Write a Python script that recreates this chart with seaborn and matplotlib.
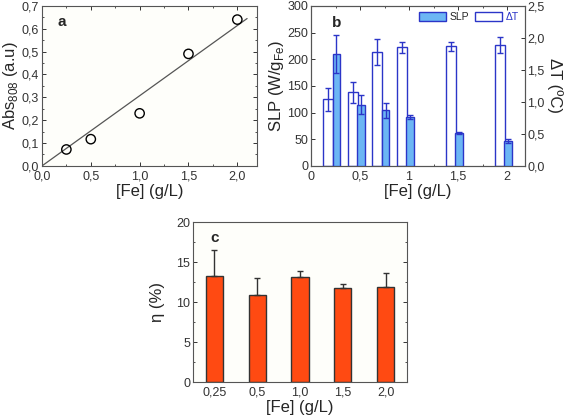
import numpy as np
import pandas as pd
import matplotlib
matplotlib.use("Agg")
import matplotlib.pyplot as plt
import seaborn as sns
from matplotlib.ticker import FuncFormatter, MultipleLocator, AutoMinorLocator
from matplotlib.patches import Patch

# panel a: absorbance at 808 nm
fe_abs = [0.25, 0.5, 1.0, 1.5, 2.0]
abs808 = [0.072, 0.117, 0.23, 0.49, 0.64]

# panel b: SLP and temperature increase
fe_b = [0.25, 0.5, 0.75, 1.0, 1.5, 2.0]
slp = [210, 115, 104, 92, 62, 47]
slp_err = [35, 17, 14, 4, 2, 4]
dT = [1.04, 1.15, 1.78, 1.85, 1.87, 1.89]
dT_err = [0.18, 0.16, 0.21, 0.08, 0.07, 0.12]

# panel c: efficiency
fe_c = ["0,25", "0,5", "1,0", "1,5", "2,0"]
eta = [13.3, 10.9, 13.1, 11.8, 11.85]
eta_err = [3.2, 2.1, 0.8, 0.45, 1.8]

sns.set_style("white")
plt.rcParams["font.family"] = ["Liberation Sans", "DejaVu Sans"]
plt.rcParams["axes.edgecolor"] = "#555555"
plt.rcParams["xtick.color"] = "#333333"
plt.rcParams["ytick.color"] = "#333333"

comma = lambda fmt: FuncFormatter(lambda v, p: (fmt % v).replace(".", ","))
gen = FuncFormatter(lambda v, p: ("%g" % v).replace(".", ","))

fig = plt.figure(figsize=(5.67, 4.19), dpi=100)
axa = fig.add_axes([0.074, 0.604, 0.379, 0.382])
axb = fig.add_axes([0.5485, 0.604, 0.377, 0.382])
axc = fig.add_axes([0.340, 0.088, 0.378, 0.382])

TS = 9
LS = 12


def style(ax, right=True):
    ax.set_facecolor("#fefefa")
    ax.tick_params(direction="in", length=3, width=0.7, labelsize=TS, pad=2,
                   top=True, right=right, bottom=True, left=True)
    ax.tick_params(axis="x", pad=3.5)
    ax.tick_params(which="minor", direction="in", length=1.5, width=0.6,
                   top=True, right=right, bottom=True, left=True)
    for s in ax.spines.values():
        s.set_linewidth(0.8)


# ---- a ----
df_a = pd.DataFrame({"fe": fe_abs, "abs": abs808})
slope = np.sum(np.array(fe_abs) * np.array(abs808)) / np.sum(np.array(fe_abs) ** 2)
fit = pd.DataFrame({"fe": [0.0, 2.1], "abs": [0.0, slope * 2.1]})
sns.lineplot(data=fit, x="fe", y="abs", ax=axa, color="#555555", lw=0.9)
sns.scatterplot(data=df_a, x="fe", y="abs", ax=axa, s=45, facecolor="none",
                edgecolor="black", linewidth=1.0, zorder=3)
axa.set_xlim(0, 2.2)
axa.set_ylim(0, 0.7)
axa.xaxis.set_major_locator(MultipleLocator(0.5))
axa.yaxis.set_major_locator(MultipleLocator(0.1))
axa.xaxis.set_minor_locator(AutoMinorLocator(2))
axa.yaxis.set_minor_locator(AutoMinorLocator(2))
axa.xaxis.set_major_formatter(comma("%.1f"))
axa.yaxis.set_major_formatter(comma("%.1f"))
axa.set_xlabel("[Fe] (g/L)", fontsize=LS, labelpad=1)
axa.set_ylabel("Abs$_{\\mathregular{808}}$ (a.u)", fontsize=LS, labelpad=1)
style(axa)
axa.text(0.09, 0.9, "a", transform=axa.transAxes, fontsize=11, fontweight="bold",
         va="center", ha="center")

# ---- b ----
edge = "#2b35c8"
axb2 = axb.twinx()
x = np.array(fe_b)
axb2.bar(x - 0.075, dT, width=0.1, color="white", edgecolor=edge, linewidth=1.0)
axb2.errorbar(x - 0.075, dT, yerr=dT_err, fmt="none", ecolor=edge, elinewidth=1.0,
              capsize=2.5, capthick=1.0)
axb.bar(x + 0.01, slp, width=0.08, color="#6cb6f4", edgecolor=edge, linewidth=1.0, zorder=3)
axb.errorbar(x + 0.01, slp, yerr=slp_err, fmt="none", ecolor=edge, elinewidth=1.0,
             capsize=2.5, capthick=1.0, zorder=4)
axb.set_zorder(axb2.get_zorder() + 1)
axb.patch.set_visible(False)
axb2.set_facecolor("#fefefa")
axb.set_xlim(0, 2.18)
axb.set_ylim(0, 300)
axb2.set_ylim(0, 2.5)
axb.xaxis.set_major_locator(MultipleLocator(0.5))
axb.xaxis.set_minor_locator(AutoMinorLocator(2))
axb.yaxis.set_major_locator(MultipleLocator(50))
axb2.yaxis.set_major_locator(MultipleLocator(0.5))
axb.xaxis.set_major_formatter(gen)
axb2.yaxis.set_major_formatter(comma("%.1f"))
style(axb, right=False)
axb2.tick_params(direction="in", length=3, width=0.7, labelsize=TS, pad=2)
axb.set_xlabel("[Fe] (g/L)", fontsize=LS, labelpad=1)
axb.set_ylabel("SLP (W/g$_{\\mathregular{Fe}}$)", fontsize=LS, labelpad=1)
axb2.set_ylabel("\u0394T (\u00baC)", fontsize=LS, rotation=270, labelpad=13)
axb.text(0.12, 0.89, "b", transform=axb.transAxes, fontsize=11, fontweight="bold",
         va="center", ha="center")
handles = [Patch(facecolor="#6cb6f4", edgecolor=edge, label="SLP"),
           Patch(facecolor="white", edgecolor=edge, label="\u0394T")]
leg = axb.legend(handles=handles, ncol=2, loc="upper right", frameon=False,
                 fontsize=7.5, handlelength=2.6, handleheight=1.0,
                 columnspacing=0.6, handletextpad=0.3, borderaxespad=0.2)
leg.get_texts()[1].set_color(edge)

# ---- c ----
df_c = pd.DataFrame({"fe": fe_c, "eta": eta})
sns.barplot(data=df_c, x="fe", y="eta", ax=axc, color="#ff4a12", edgecolor="#333333",
            linewidth=1.0, width=0.4, saturation=1)
axc.errorbar(np.arange(len(eta)), eta, yerr=[np.zeros(len(eta)), eta_err], fmt="none",
             ecolor="#333333", elinewidth=1.0, capsize=2.5, capthick=1.0)
axc.set_xlim(-0.5, 4.5)
axc.set_ylim(0, 20)
axc.yaxis.set_major_locator(MultipleLocator(5))
axc.yaxis.set_minor_locator(AutoMinorLocator(2))
style(axc)
axc.tick_params(axis="x", bottom=False, top=False, which="both")
axc.set_xlabel("[Fe] (g/L)", fontsize=LS, labelpad=1)
axc.set_ylabel("\u03b7 (%)", fontsize=LS, labelpad=8)
axc.text(0.1, 0.9, "c", transform=axc.transAxes, fontsize=11, fontweight="bold",
         va="center", ha="center")

fig.savefig("out.png", dpi=100)
